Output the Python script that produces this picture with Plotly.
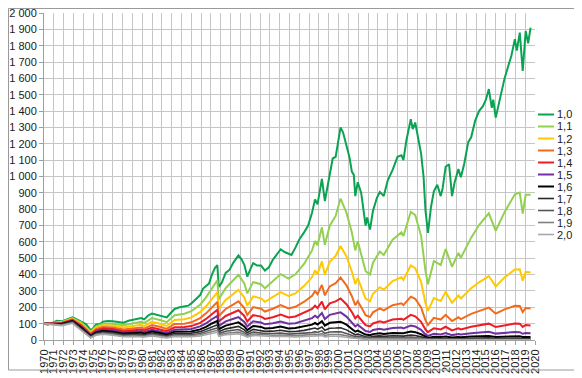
import plotly.graph_objects as go

# ---------------- data ----------------
series_names = ["1,0", "1,1", "1,2", "1,3", "1,4", "1,5", "1,6", "1,7", "1,8", "1,9", "2,0"]
series_colors = ["#0AA352", "#92D050", "#FFC800", "#F26B1D", "#EE1C25", "#7030A0",
                 "#000000", "#2B2B2B", "#555555", "#808080", "#A8A8A8"]
line_widths = [2, 2, 2, 2, 2, 2, 2, 1.6, 1.6, 1.6, 1.6]

years_10 = [1970.0, 1970.4, 1970.9, 1971.3, 1971.8, 1972.3, 1972.9, 1973.3, 1973.8, 1974.3,
            1974.75, 1975.0, 1975.3, 1975.7, 1976.0, 1976.5, 1977.0, 1977.5, 1978.1, 1978.6,
            1979.1, 1979.5, 1979.9, 1980.2, 1980.6, 1981.0, 1981.5, 1981.9, 1982.5, 1982.9,
            1983.3, 1983.8, 1984.3, 1984.7, 1985.0, 1985.4, 1985.9, 1986.2, 1986.5, 1986.8,
            1987.1, 1987.4, 1987.65, 1987.8, 1988.1, 1988.5, 1988.9, 1989.3, 1989.8, 1990.1,
            1990.4, 1990.7, 1991.0, 1991.3, 1991.7, 1992.1, 1992.5, 1992.9, 1993.3, 1993.8,
            1994.1, 1994.5, 1994.9, 1995.2, 1995.6, 1996.0, 1996.5, 1996.9, 1997.3, 1997.6,
            1997.85, 1998.3, 1998.6, 1998.85, 1999.1, 1999.4, 1999.7, 2000.0, 2000.2, 2000.45,
            2000.8, 2001.1, 2001.35, 2001.55, 2001.7, 2001.95, 2002.3, 2002.55, 2002.75, 2002.9,
            2003.2, 2003.5, 2003.9, 2004.2, 2004.6, 2005.0, 2005.5, 2006.0, 2006.4, 2006.6,
            2006.9, 2007.35, 2007.55, 2007.8, 2008.1, 2008.4, 2008.65, 2008.85, 2009.1, 2009.4,
            2009.7, 2010.05, 2010.4, 2010.6, 2010.9, 2011.25, 2011.55, 2011.8, 2012.2, 2012.45,
            2012.8, 2013.2, 2013.5, 2013.9, 2014.3, 2014.7, 2015.0, 2015.3, 2015.6, 2015.75,
            2016.0, 2016.4, 2016.9, 2017.3, 2017.6, 2017.95, 2018.15, 2018.45, 2018.75, 2019.05,
            2019.3, 2019.55]
values_10 = [100, 94, 106, 118, 114, 126, 138, 128, 114, 96,
             60, 72, 95, 98, 112, 116, 115, 110, 106, 118,
             123, 126, 134, 126, 150, 162, 154, 150, 138, 165,
             190, 200, 204, 210, 224, 245, 275, 315, 330, 345,
             400, 440, 458, 325, 350, 410, 430, 475, 518, 495,
             460, 388, 430, 470, 455, 455, 425, 445, 490, 530,
             555, 538, 525, 520, 565, 615, 660, 700, 780, 860,
             830, 985, 850, 940, 1020, 1110, 1120, 1240, 1300, 1270,
             1190, 1120, 1030, 1010, 880, 965, 900, 770, 700, 750,
             675, 790, 870, 905, 880, 975, 1040, 1120, 1130, 1100,
             1220, 1350, 1290, 1330, 1230, 1140, 1000, 790, 655, 810,
             910, 950, 880, 930, 1060, 1075, 880, 960, 1045, 995,
             1080, 1210, 1240, 1340, 1400, 1430, 1470, 1535, 1420, 1470,
             1360, 1470, 1600, 1680, 1740, 1840, 1770, 1880, 1645, 1890,
             1815, 1910]

years = [1970.0, 1970.9, 1971.8, 1972.9, 1973.8, 1974.75, 1975.3, 1976.0, 1977.0, 1978.1,
         1979.1, 1979.9, 1980.2, 1981.0, 1981.9, 1982.5, 1983.3, 1984.3, 1985.0, 1985.9,
         1986.5, 1987.1, 1987.65, 1987.8, 1988.5, 1989.3, 1989.8, 1990.4, 1990.7, 1991.3,
         1992.1, 1992.5, 1993.3, 1994.1, 1994.9, 1995.6, 1996.5, 1997.3, 1997.6, 1997.85,
         1998.3, 1998.6, 1999.1, 1999.7, 2000.2, 2000.8, 2001.35, 2001.7, 2001.95, 2002.55,
         2002.75, 2003.2, 2003.5, 2004.2, 2004.6, 2005.5, 2006.4, 2006.6, 2007.35, 2007.8,
         2008.4, 2008.85, 2009.1, 2009.7, 2010.4, 2010.9, 2011.55, 2012.2, 2012.45, 2013.5,
         2014.3, 2015.3, 2016.0, 2016.9, 2017.95, 2018.45, 2018.75, 2019.05, 2019.55]

values_11 = [100, 105, 111, 134, 106, 51, 84, 100, 100, 90,
             103, 112, 104, 134, 121, 109, 152, 161, 176, 216,
             261, 318, 365, 249, 317, 367, 399, 346, 285, 354,
             341, 316, 358, 403, 376, 402, 467, 548, 605, 579,
             689, 582, 699, 759, 865, 779, 657, 548, 604, 469,
             421, 400, 473, 541, 520, 613, 658, 636, 784, 764,
             637, 421, 341, 483, 459, 557, 448, 533, 503, 626,
             703, 775, 668, 782, 891, 902, 773, 888, 888]
values_12 = [100, 103, 108, 130, 99, 44, 75, 89, 88, 76,
             87, 93, 85, 111, 98, 86, 122, 127, 138, 170,
             206, 253, 291, 191, 245, 283, 307, 260, 209, 267,
             255, 234, 261, 293, 269, 285, 331, 385, 425, 403,
             481, 399, 478, 514, 575, 511, 419, 342, 378, 286,
             253, 237, 283, 323, 307, 361, 384, 368, 456, 439,
             356, 225, 178, 257, 239, 293, 228, 272, 254, 316,
             353, 391, 328, 383, 431, 433, 363, 417, 413]
values_13 = [100, 102, 106, 126, 93, 38, 66, 79, 76, 64,
             73, 77, 70, 92, 79, 68, 98, 100, 108, 134,
             163, 201, 232, 147, 190, 218, 237, 195, 153, 201,
             191, 174, 191, 213, 193, 203, 234, 271, 299, 281,
             337, 273, 328, 348, 382, 334, 268, 213, 237, 174,
             152, 141, 169, 193, 181, 213, 224, 213, 265, 252,
             199, 120, 92, 136, 125, 154, 116, 139, 128, 160,
             177, 198, 161, 187, 209, 208, 171, 196, 192]
values_14 = [100, 100, 103, 122, 87, 33, 59, 70, 67, 54,
             61, 64, 58, 76, 63, 54, 78, 79, 85, 105,
             129, 160, 185, 113, 147, 168, 182, 147, 113, 152,
             143, 129, 139, 155, 138, 144, 166, 190, 210, 196,
             235, 187, 224, 236, 254, 219, 171, 133, 148, 106,
             91, 83, 101, 115, 107, 125, 130, 123, 154, 145,
             111, 64, 48, 72, 65, 81, 59, 71, 65, 81,
             89, 100, 79, 91, 101, 100, 80, 92, 89]
values_15 = [100, 99, 100, 119, 81, 28, 52, 62, 58, 46,
             51, 54, 47, 63, 51, 42, 63, 63, 67, 83,
             102, 127, 147, 86, 114, 130, 140, 110, 83, 114,
             107, 96, 102, 113, 99, 103, 118, 134, 148, 137,
             165, 128, 154, 160, 169, 143, 109, 83, 93, 65,
             55, 49, 61, 69, 63, 74, 76, 71, 89, 83,
             62, 34, 25, 38, 34, 43, 30, 36, 33, 41,
             45, 50, 39, 45, 49, 48, 38, 43, 42]
values_16 = [100, 98, 98, 115, 76, 24, 47, 55, 51, 39,
             43, 45, 39, 52, 41, 33, 50, 49, 52, 65,
             80, 101, 117, 66, 88, 100, 108, 83, 61, 86,
             80, 71, 74, 82, 71, 73, 83, 94, 104, 95,
             115, 88, 105, 108, 112, 94, 69, 51, 58, 39,
             33, 29, 36, 41, 37, 43, 44, 41, 52, 48,
             35, 18, 13, 20, 18, 22, 15, 18, 17, 21,
             22, 25, 19, 22, 24, 23, 18, 20, 19]
values_17 = [100, 96, 95, 112, 71, 21, 41, 49, 44, 33,
             36, 37, 32, 43, 33, 26, 40, 39, 41, 51,
             64, 80, 93, 51, 68, 77, 83, 62, 44, 65,
             60, 53, 54, 60, 51, 52, 59, 66, 73, 66,
             80, 60, 72, 73, 75, 62, 44, 32, 36, 24,
             20, 17, 22, 25, 22, 26, 26, 24, 30, 28,
             19, 10, 7, 11, 9, 12, 8, 9, 8, 10,
             11, 13, 9, 11, 11, 11, 8, 10, 9]
values_18 = [100, 95, 93, 108, 66, 18, 37, 44, 39, 28,
             30, 31, 26, 36, 27, 21, 32, 31, 32, 40,
             50, 64, 74, 39, 53, 60, 64, 47, 33, 49,
             45, 39, 40, 43, 36, 37, 42, 46, 51, 46,
             56, 41, 49, 50, 50, 40, 28, 20, 23, 15,
             12, 10, 13, 15, 13, 15, 15, 14, 18, 16,
             11, 5, 3.5, 6, 5, 6, 4, 5, 4, 5,
             6, 6.5, 4.6, 5, 5.5, 5.3, 3.9, 4.5, 4.2]
values_19 = [100, 94, 91, 105, 62, 15, 33, 39, 34, 23,
             25, 26, 22, 30, 22, 16, 26, 24, 25, 32,
             40, 51, 59, 30, 41, 46, 49, 35, 24, 37,
             34, 29, 29, 31, 26, 26, 30, 33, 36, 32,
             39, 28, 34, 34, 33, 26, 18, 12, 14, 9,
             7, 6, 8, 9, 8, 9, 9, 8, 10, 9,
             6, 3, 1.8, 3, 2.5, 3.2, 2, 2.5, 2, 2.6,
             3, 3.3, 2.3, 2.6, 2.7, 2.5, 1.8, 2.1, 1.9]
values_20 = [100, 93, 88, 102, 57, 13, 29, 35, 29, 20,
             21, 21, 18, 25, 17, 13, 21, 19, 20, 25,
             31, 40, 47, 23, 32, 36, 38, 26, 18, 28,
             25, 22, 21, 23, 19, 19, 21, 23, 25, 22,
             27, 19, 23, 23, 22, 17, 12, 8, 9, 5,
             4, 4, 5, 5, 5, 5, 5, 5, 6, 5,
             3, 1.5, 1.0, 1.6, 1.3, 1.7, 1, 1.3, 1.1, 1.3,
             1.4, 1.7, 1.1, 1.3, 1.3, 1.2, 0.9, 1.0, 0.9]

y_ticks = list(range(0, 2001, 100))
y_tick_labels = [f"{v:,}".replace(",", " ") for v in y_ticks]
x_ticks = list(range(1970, 2021))

# ---------------- figure ----------------
# The page body keeps the browser's default 8px margin, so the figure is
# placed in figure pixels = page pixels - 8.
OFF = 8
W, H = 582 - OFF, 378 - OFF
PL, PR, PT, PB = 44 - OFF, 535 - OFF, 13 - OFF, 340 - OFF  # plot area in figure px
FONT = "Liberation Sans, Arial, sans-serif"


def px_x(px):
    return (px - PL) / (PR - PL)


def px_y(py):
    return (PB - py) / (PB - PT)


all_x = [years_10] + [years] * 10
all_y = [values_10, values_11, values_12, values_13, values_14, values_15,
         values_16, values_17, values_18, values_19, values_20]

fig = go.Figure()
for name, xs, ys, col, lw in zip(series_names, all_x, all_y, series_colors, line_widths):
    fig.add_trace(go.Scatter(x=xs, y=ys, name=name, mode="lines",
                             line=dict(color=col, width=lw), showlegend=False))

shapes = []
annotations = []
# outer chart border
shapes.append(dict(type="rect", xref="paper", yref="paper",
                   x0=px_x(0.5), x1=px_x(578 - OFF), y0=px_y(370 - OFF), y1=px_y(0.5),
                   line=dict(color="#9A9A9A", width=1), fillcolor="rgba(0,0,0,0)", layer="above"))
# legend (drawn manually to match the compact spacing of the original)
for i, (name, col, lw) in enumerate(zip(series_names, series_colors, line_widths)):
    yy = 114.5 - OFF + 12 * i
    shapes.append(dict(type="line", xref="paper", yref="paper",
                       x0=px_x(538 - OFF), x1=px_x(554 - OFF), y0=px_y(yy), y1=px_y(yy),
                       line=dict(color=col, width=lw)))
    annotations.append(dict(text=name, xref="paper", yref="paper",
                            x=px_x(555 - OFF), y=px_y(yy), xanchor="left", yanchor="middle",
                            showarrow=False, font=dict(family=FONT, size=11, color="#1A1A1A")))

fig.update_layout(
    width=W, height=H,
    margin=dict(l=PL, r=W - PR, t=PT, b=H - PB, autoexpand=False),
    paper_bgcolor="white", plot_bgcolor="white",
    font=dict(family=FONT, size=11, color="#1A1A1A"),
    showlegend=False,
    shapes=shapes, annotations=annotations,
    xaxis=dict(range=[1970, 2020], tickmode="array", tickvals=x_ticks,
               ticktext=[str(y) for y in x_ticks], tickangle=-90,
               showgrid=True, gridcolor="#C6C6C6", gridwidth=1,
               showline=True, linecolor="#A0A0A0", linewidth=1,
               ticks="outside", ticklen=4, tickcolor="#A0A0A0",
               ticklabeloverflow="allow",
               zeroline=False, tickfont=dict(family=FONT, size=11, color="#1A1A1A")),
    yaxis=dict(range=[0, 2000], tickmode="array", tickvals=y_ticks, ticktext=y_tick_labels,
               showgrid=True, gridcolor="#C6C6C6", gridwidth=1,
               showline=True, linecolor="#A0A0A0", linewidth=1,
               ticks="outside", ticklen=4, tickcolor="#A0A0A0",
               ticklabeloverflow="allow",
               zeroline=False, tickfont=dict(family=FONT, size=11, color="#1A1A1A")),
)

fig.write_html("out.html")
